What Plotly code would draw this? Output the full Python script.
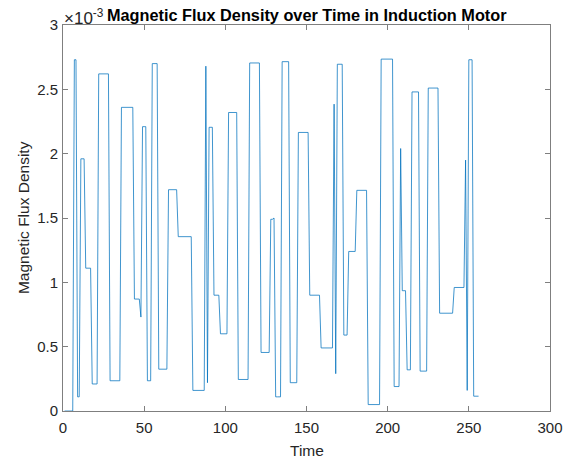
import numpy as np
import plotly.graph_objects as go

# Piecewise-constant flux trace: each level (in units of 1e-3) is held for a number of samples
segment_levels = [
    0.00, 2.73, 0.11, 1.96, 1.11, 0.21, 2.62, 0.235, 2.36, 0.87,
    0.73, 2.21, 0.235, 2.70, 0.325, 1.72, 1.355, 0.16, 2.68, 0.22,
    2.205, 0.90, 0.60, 2.32, 0.245, 2.705, 0.455, 1.49, 1.50, 0.11,
    2.715, 0.22, 2.165, 0.90, 0.49, 2.385, 0.29, 2.695, 0.59, 1.24,
    1.715, 0.05, 2.735, 0.19, 2.04, 0.935, 0.32, 2.48, 0.31, 2.51,
    0.76, 0.96, 1.95, 0.16, 2.73, 0.115,
]
segment_lengths = [
    6, 2, 2, 3, 4, 4, 7, 7, 8, 4,
    1, 3, 3, 4, 6, 6, 9, 8, 1, 1,
    3, 4, 5, 6, 7, 7, 6, 2, 1, 4,
    5, 5, 7, 7, 8, 1, 1, 4, 3, 5,
    7, 8, 8, 4, 1, 3, 3, 5, 5, 7,
    9, 7, 1, 1, 3, 4,
]

x_ticks = [0, 50, 100, 150, 200, 250, 300]
y_ticks = [0, 0.5, 1, 1.5, 2, 2.5, 3]
y_tick_labels = ["0", "0.5", "1", "1.5", "2", "2.5", "3"]

flux = np.repeat(np.array(segment_levels) * 1e-3, segment_lengths)
time = np.arange(1, len(flux) + 1)

FONT = "Liberation Sans, Arial, Helvetica, sans-serif"
TXT = "#262626"
AX = "#7f7f7f"

fig = go.Figure(
    go.Scatter(
        x=time, y=flux, mode="lines",
        line=dict(color="#0072BD", width=0.75),
        showlegend=False,
    )
)

axis_common = dict(
    showline=True, linecolor=AX, linewidth=1, mirror="ticks",
    ticks="inside", ticklen=5, tickwidth=1, tickcolor=AX,
    showgrid=False, zeroline=False,
    tickfont=dict(family=FONT, size=15, color=TXT),
)

fig.update_xaxes(range=[0, 300], tickvals=x_ticks, ticklabelstandoff=3,
                 **axis_common)
fig.update_yaxes(
    range=[0, 0.003],
    tickvals=[v * 1e-3 for v in y_ticks], ticktext=y_tick_labels,
    ticklabelstandoff=1,
    **axis_common,
)

fig.update_layout(
    width=574, height=463,
    margin=dict(l=63, r=24, t=25, b=52),
    paper_bgcolor="white", plot_bgcolor="white",
    font=dict(family=FONT, color=TXT),
    annotations=[
        dict(text="<b>Magnetic Flux Density over Time in Induction Motor</b>",
             xref="paper", yref="paper", x=0.5, y=1.027,
             xanchor="center", yanchor="middle", showarrow=False,
             font=dict(size=16.3, color="black", family=FONT)),
        dict(text="×10<sup>-3</sup>",
             xref="paper", yref="paper", x=-0.002, y=1.02,
             xanchor="left", yanchor="middle", showarrow=False,
             font=dict(size=17, color=TXT, family=FONT)),
        dict(text="Time",
             xref="paper", yref="paper", x=0.5, y=-0.103,
             xanchor="center", yanchor="middle", showarrow=False,
             font=dict(size=15.5, color=TXT, family=FONT)),
        dict(text="Magnetic Flux Density",
             xref="paper", yref="paper", x=-0.082, y=0.5,
             xanchor="center", yanchor="middle", showarrow=False,
             textangle=-90,
             font=dict(size=15.5, color=TXT, family=FONT)),
    ],
)

fig.write_html("out.html")
